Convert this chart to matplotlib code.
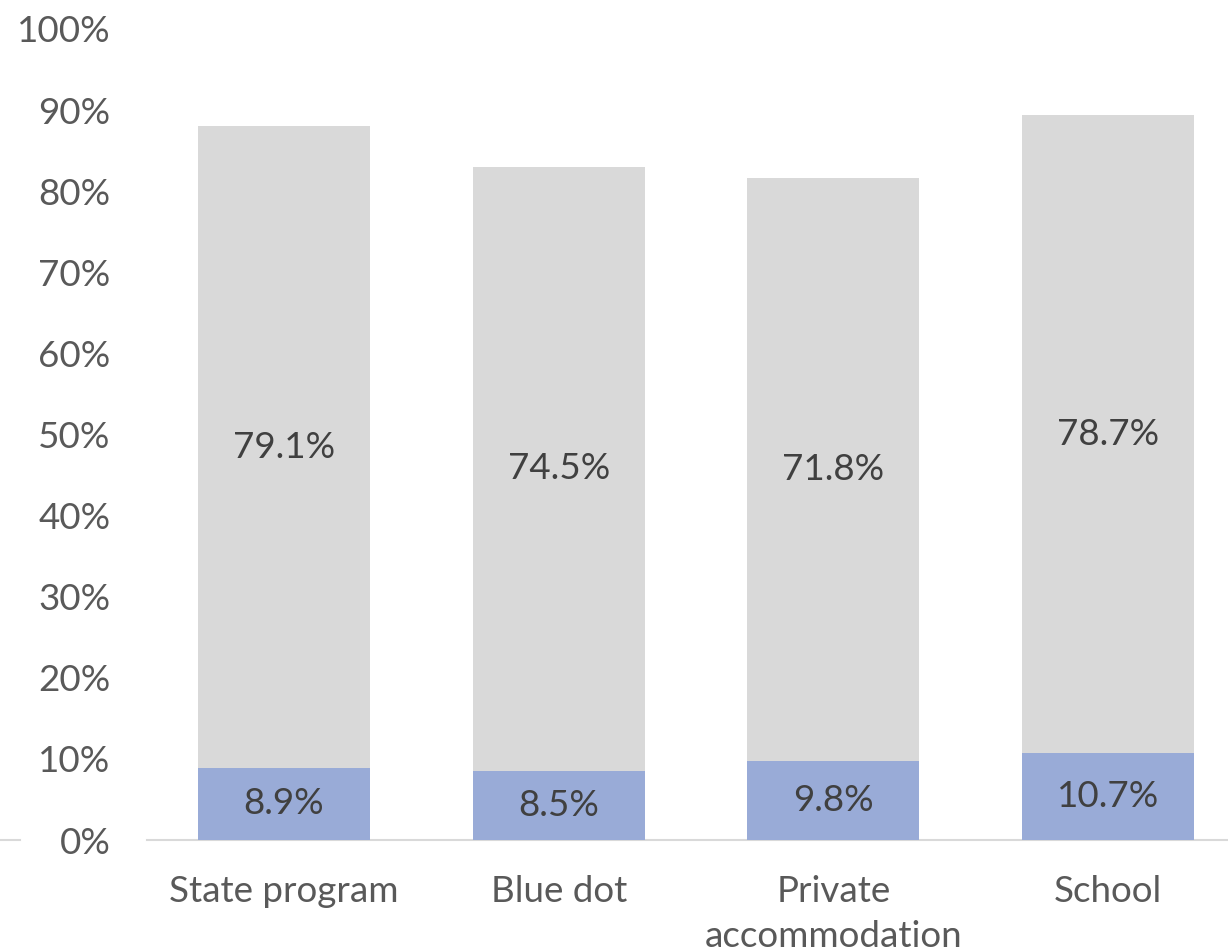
import matplotlib
matplotlib.use("Agg")
import matplotlib.pyplot as plt
from matplotlib.lines import Line2D
from matplotlib.ticker import FuncFormatter

categories = ["State program", "Blue dot", "Private\naccommodation", "School"]
bottom_vals = [8.9, 8.5, 9.8, 10.7]
top_vals = [79.1, 74.5, 71.8, 78.7]
yticks = [0, 10, 20, 30, 40, 50, 60, 70, 80, 90, 100]

plt.rcParams['font.family'] = ['Lato', 'DejaVu Sans']

W, H = 1228, 950
fig = plt.figure(figsize=(W / 100, H / 100), dpi=100)
left_px, right_px = 146.6, 1245.5
bot_px, top_px = 840, 29
ax = fig.add_axes([left_px / W, 1 - bot_px / H, (right_px - left_px) / W, (bot_px - top_px) / H])

x = list(range(len(categories)))
blue = "#99ABD7"
grey = "#D9D9D9"
bw = 0.626
fs = 26.5
ax.bar(x, bottom_vals, width=bw, color=blue, zorder=2)
ax.bar(x, top_vals, width=bw, bottom=bottom_vals, color=grey, zorder=2)

for xi, b, t in zip(x, bottom_vals, top_vals):
    ax.text(xi, b / 2, f"{b}%", ha="center", va="center", fontsize=fs, color="#404040", zorder=3)
    ax.text(xi, b + t / 2, f"{t}%", ha="center", va="center", fontsize=fs, color="#404040", zorder=3)

ax.set_xlim(-0.5, len(categories) - 0.5)
ax.set_ylim(0, 100)
ax.set_yticks(yticks)
ax.yaxis.set_major_formatter(FuncFormatter(lambda v, p: f"{int(v)}%"))
ax.set_xticks(x)
ax.set_xticklabels(categories, linespacing=1.44)
ax.tick_params(axis="y", length=0, pad=26, labelsize=fs, labelcolor="#595959")
ax.tick_params(axis="x", length=0, pad=25, labelsize=fs, labelcolor="#595959")
for s in ["top", "right", "left"]:
    ax.spines[s].set_visible(False)
ax.spines["bottom"].set_color("#D9D9D9")
ax.spines["bottom"].set_linewidth(1.5)
ax.spines["bottom"].set_zorder(1)

fig.add_artist(Line2D([0, 20 / W], [1 - bot_px / H, 1 - bot_px / H], transform=fig.transFigure,
                      color="#D9D9D9", linewidth=1.5))

fig.savefig("out.png", dpi=100, facecolor="white")
